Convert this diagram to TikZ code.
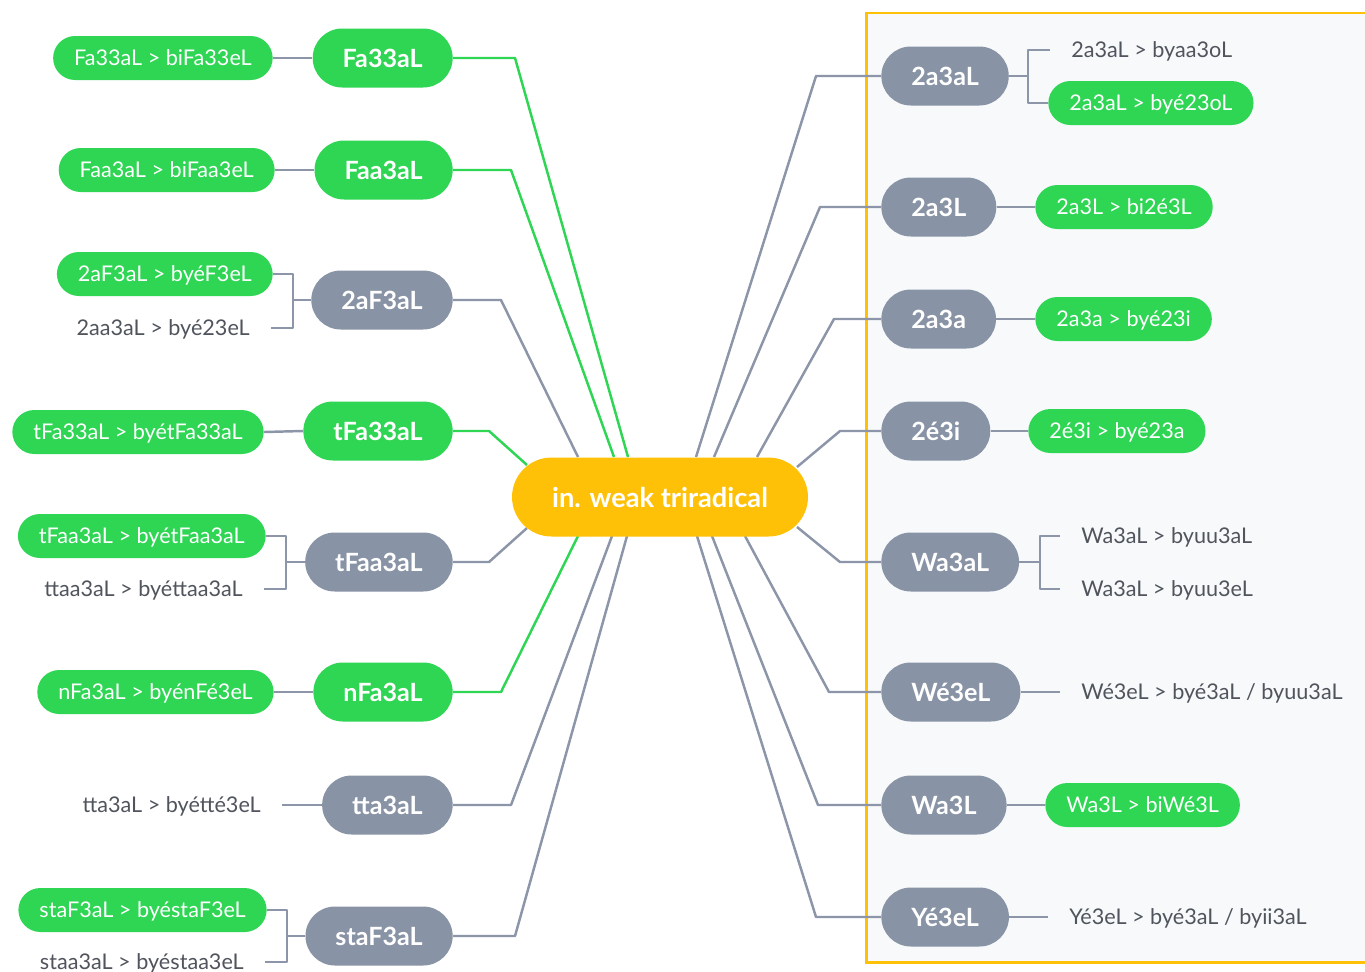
\documentclass[tikz,border=0pt]{standalone}
\usepackage{fontspec}
\setmainfont{Lato}
\usetikzlibrary{calc}
\definecolor{leafgreen}{RGB}{46,214,84}
\definecolor{nodegray}{RGB}{136,147,165}
\definecolor{linegray}{RGB}{140,150,168}
\definecolor{txtgray}{RGB}{80,84,92}
\definecolor{amber}{RGB}{255,193,7}
\definecolor{panelbg}{RGB}{247,249,251}
\pgfdeclarelayer{panel}
\pgfdeclarelayer{edges}
\pgfsetlayers{panel,edges,main}
\begin{document}
\begin{tikzpicture}[x=0.02cm,y=-0.02cm,
  mainbox/.style={rounded corners=0.59cm, minimum height=1.18cm, inner xsep=0.6cm, inner ysep=0pt, text=white, font=\fontsize{14.3}{17}\selectfont\bfseries},
  gmain/.style={mainbox, fill=leafgreen},
  ymain/.style={mainbox, fill=nodegray},
  leafbox/.style={rounded corners=0.44cm, minimum height=0.88cm, inner xsep=0.42cm, inner ysep=0pt, text depth=0.2ex, font=\fontsize{12.3}{14}\selectfont},
  gleaf/.style={leafbox, fill=leafgreen, text=white},
  pleaf/.style={leafbox, text=txtgray},
  ctrbox/.style={rounded corners=0.79cm, minimum height=1.58cm, minimum width=5.92cm, fill=amber, text=white, font=\fontsize{15.5}{18}\selectfont\bfseries},
  gline/.style={draw=leafgreen, line width=1.4pt, line join=round},
  eline/.style={draw=linegray, line width=1.4pt, line join=round},
  frame/.style={draw=amber, line width=1.7pt}
]
\useasboundingbox (0,0) rectangle (1365,971);
\begin{pgfonlayer}{panel}
  \fill[white] (0,0) rectangle (1365,971);
  \fill[panelbg] (866,13) rectangle (1366,962);
  \draw[frame] (1367,13) -- (866,13) -- (866,962) -- (1367,962);
\end{pgfonlayer}

% center
\node[ctrbox] (c) at (660,497) {in. weak triradical};

% left main nodes
\node[gmain,anchor=east] (m1) at (453,58) {Fa33aL};
\node[gmain,anchor=east] (m2) at (453,170) {Faa3aL};
\node[ymain,anchor=east] (m3) at (453,300) {2aF3aL};
\node[gmain,anchor=east] (m4) at (453,431) {tFa33aL};
\node[ymain,anchor=east] (m5) at (453,562) {tFaa3aL};
\node[gmain,anchor=east] (m6) at (453,692) {nFa3aL};
\node[ymain,anchor=east] (m7) at (453,805) {tta3aL};
\node[ymain,anchor=east] (m8) at (453,936) {staF3aL};

% left leaves
\node[gleaf,anchor=east] (l1) at (273,58) {Fa33aL > biFa33eL};
\node[gleaf,anchor=east] (l2) at (275,170) {Faa3aL > biFaa3eL};
\node[gleaf,anchor=east] (l3a) at (273,274) {2aF3aL > byéF3eL};
\node[pleaf,anchor=east] (l3b) at (271,328) {2aa3aL > byé23eL};
\node[gleaf,anchor=east] (l4) at (264,432) {tFa33aL > byétFa33aL};
\node[gleaf,anchor=east] (l5a) at (266,536) {tFaa3aL > byétFaa3aL};
\node[pleaf,anchor=east] (l5b) at (264,589) {ttaa3aL > byéttaa3aL};
\node[gleaf,anchor=east] (l6) at (274,692) {nFa3aL > byénFé3eL};
\node[pleaf,anchor=east] (l7) at (282,805) {tta3aL > byétté3eL};
\node[gleaf,anchor=east] (l8a) at (267,910) {staF3aL > byéstaF3eL};
\node[pleaf,anchor=east] (l8b) at (265,962) {staa3aL > byéstaa3eL};

% right main nodes
\node[ymain,anchor=west] (r1) at (881,76) {2a3aL};
\node[ymain,anchor=west] (r2) at (881,207) {2a3L};
\node[ymain,anchor=west] (r3) at (881,319) {2a3a};
\node[ymain,anchor=west] (r4) at (881,431) {2é3i};
\node[ymain,anchor=west] (r5) at (881,562) {Wa3aL};
\node[ymain,anchor=west] (r6) at (881,692) {Wé3eL};
\node[ymain,anchor=west] (r7) at (881,805) {Wa3L};
\node[ymain,anchor=west] (r8) at (881,917) {Yé3eL};

% right leaves
\node[pleaf,anchor=west] (s1a) at (1050,50) {2a3aL > byaa3oL};
\node[gleaf,anchor=west] (s1b) at (1048,103) {2a3aL > byé23oL};
\node[gleaf,anchor=west] (s2) at (1035,207) {2a3L > bi2é3L};
\node[gleaf,anchor=west] (s3) at (1035,319) {2a3a > byé23i};
\node[gleaf,anchor=west] (s4) at (1028,431) {2é3i > byé23a};
\node[pleaf,anchor=west] (s5a) at (1060,536) {Wa3aL > byuu3aL};
\node[pleaf,anchor=west] (s5b) at (1060,589) {Wa3aL > byuu3eL};
\node[pleaf,anchor=west] (s6) at (1060,692) {Wé3eL > byé3aL / byuu3aL};
\node[gleaf,anchor=west] (s7) at (1045,805) {Wa3L > biWé3L};
\node[pleaf,anchor=west] (s8) at (1048,917) {Yé3eL > byé3aL / byii3aL};

% coordinates
\coordinate (a1) at (628,457); \coordinate (e1) at (515,58);
\coordinate (a2) at (614,457); \coordinate (e2) at (511,170);
\coordinate (a3) at (578,457); \coordinate (e3) at (501,300);
\coordinate (a4) at (527,465); \coordinate (e4) at (489,431);
\coordinate (a5) at (527,528); \coordinate (e5) at (489,562);
\coordinate (a6) at (578,536); \coordinate (e6) at (501,692);
\coordinate (a7) at (612,536); \coordinate (e7) at (511,805);
\coordinate (a8) at (627,536); \coordinate (e8) at (515,936);
\coordinate (b1) at (696,457); \coordinate (f1) at (816,76);
\coordinate (b2) at (714,457); \coordinate (f2) at (820,207);
\coordinate (b3) at (757,457); \coordinate (f3) at (834,319);
\coordinate (b4) at (797,467); \coordinate (f4) at (840,431);
\coordinate (b5) at (797,527); \coordinate (f5) at (840,562);
\coordinate (b6) at (745,536); \coordinate (f6) at (829,692);
\coordinate (b7) at (712,536); \coordinate (f7) at (818,805);
\coordinate (b8) at (697,536); \coordinate (f8) at (816,917);
\coordinate (k3) at (293,300);
\coordinate (k5) at (286,562);
\coordinate (k8) at (287,936);
\coordinate (q1) at (1028,76);
\coordinate (q5) at (1040,562);

\begin{pgfonlayer}{edges}
  % main to center, left
  \draw[gline] (m1.east) -- (e1) -- (a1);
  \draw[gline] (m2.east) -- (e2) -- (a2);
  \draw[eline] (m3.east) -- (e3) -- (a3);
  \draw[gline] (m4.east) -- (e4) -- (a4);
  \draw[eline] (m5.east) -- (e5) -- (a5);
  \draw[gline] (m6.east) -- (e6) -- (a6);
  \draw[eline] (m7.east) -- (e7) -- (a7);
  \draw[eline] (m8.east) -- (e8) -- (a8);
  % main to center, right
  \draw[eline] (b1) -- (f1) -- (r1.west);
  \draw[eline] (b2) -- (f2) -- (r2.west);
  \draw[eline] (b3) -- (f3) -- (r3.west);
  \draw[eline] (b4) -- (f4) -- (r4.west);
  \draw[eline] (b5) -- (f5) -- (r5.west);
  \draw[eline] (b6) -- (f6) -- (r6.west);
  \draw[eline] (b7) -- (f7) -- (r7.west);
  \draw[eline] (b8) -- (f8) -- (r8.west);
  % left leaves
  \draw[eline] (l1.east) -- (m1.west);
  \draw[eline] (l2.east) -- (m2.west);
  \draw[eline] (m3.west) -- (k3) |- (l3a.east);
  \draw[eline] (k3) |- (l3b.east);
  \draw[eline] (l4.east) -- (m4.west);
  \draw[eline] (m5.west) -- (k5) |- (l5a.east);
  \draw[eline] (k5) |- (l5b.east);
  \draw[eline] (l6.east) -- (m6.west);
  \draw[eline] (l7.east) -- (m7.west);
  \draw[eline] (m8.west) -- (k8) |- (l8a.east);
  \draw[eline] (k8) |- (l8b.east);
  % right leaves
  \draw[eline] (r1.east) -- (q1) |- (s1a.west);
  \draw[eline] (q1) |- (s1b.west);
  \draw[eline] (r2.east) -- (s2.west);
  \draw[eline] (r3.east) -- (s3.west);
  \draw[eline] (r4.east) -- (s4.west);
  \draw[eline] (r5.east) -- (q5) |- (s5a.west);
  \draw[eline] (q5) |- (s5b.west);
  \draw[eline] (r6.east) -- (s6.west);
  \draw[eline] (r7.east) -- (s7.west);
  \draw[eline] (r8.east) -- (s8.west);
\end{pgfonlayer}
\end{tikzpicture}
\end{document}
